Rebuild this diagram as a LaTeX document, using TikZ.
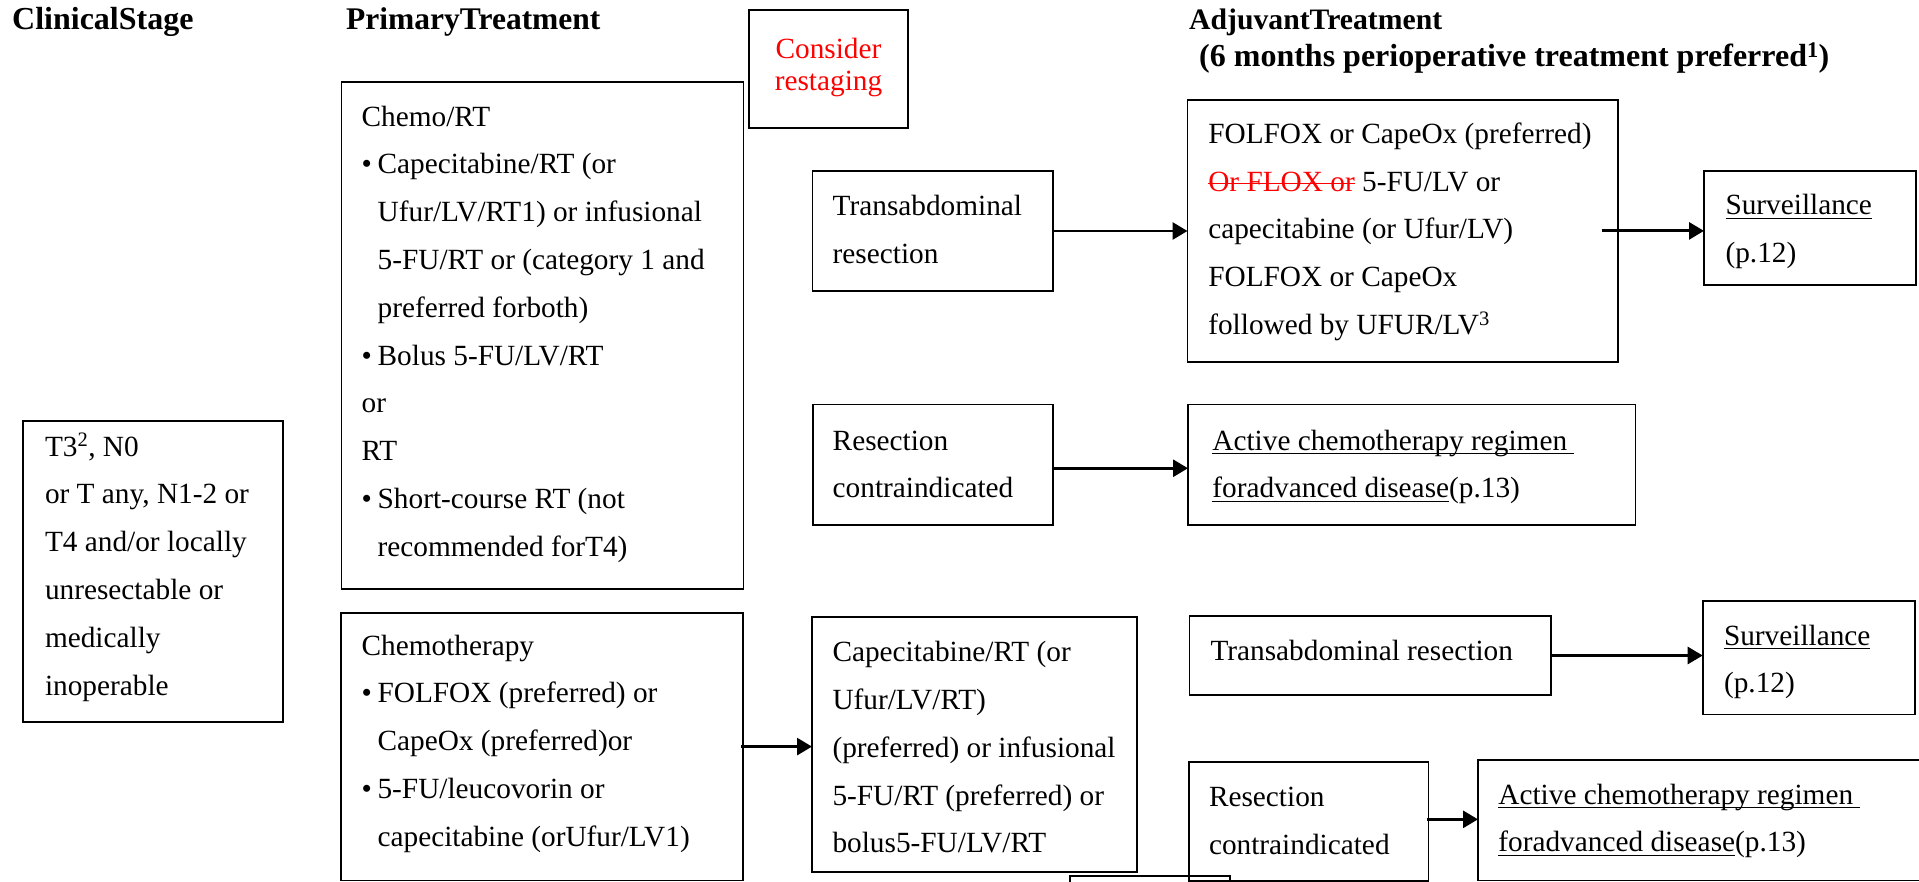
\documentclass[tikz,border=0pt]{standalone}
\usepackage{fontspec}
\setmainfont{Liberation Serif}
\usetikzlibrary{arrows.meta,calc}
\newcommand\bodyfont{\fontsize{29.3}{47.8}\selectfont}
\newcommand\headfont{\fontsize{31.5}{40}\selectfont\bfseries}
\newcommand\consfont{\fontsize{29.3}{32}\selectfont}
\newcommand\fl{\rule{0pt}{30pt}}
\newcommand\bul{\makebox[16pt][l]{\textbullet}}
\newcommand\ind{\hspace*{16pt}}
\newsavebox\mylinebox
\newcommand\uln[1]{\sbox\mylinebox{#1}\rlap{\rule[-4.2pt]{\wd\mylinebox}{1.5pt}}\usebox\mylinebox}
\newcommand\strk[1]{\sbox\mylinebox{#1}\rlap{\rule[6.8pt]{\wd\mylinebox}{1.5pt}}\usebox\mylinebox}
\tikzset{
  box/.style={draw, line width=1.8pt, inner sep=0pt, outer sep=0pt, anchor=north west},
  txt/.style={anchor=north west, inner sep=0pt, outer sep=0pt, align=left, font=\bodyfont},
  head/.style={anchor=base west, inner sep=0pt, font=\headfont},
  arr/.style={line width=2.8pt, -{Triangle[length=15pt,width=17pt]}}
}
\begin{document}
\begin{tikzpicture}[x=1pt,y=-1pt]
\useasboundingbox (0,0) rectangle (1919,882);
\fill[white] (0,0) rectangle (1919,882);
\clip (0,0) rectangle (1919,882);

% headers
\node[head, font=\fontsize{32}{40}\selectfont\bfseries] (hCS) at (12,30) {ClinicalStage};
\node[head] (hPT) at (346,30) {PrimaryTreatment};
\node[head, font=\fontsize{29.7}{40}\selectfont\bfseries] (hAT) at (1189,30) {AdjuvantTreatment};
\node[head, font=\fontsize{32}{40}\selectfont\bfseries] (hAT2) at (1199,67) {(6 months perioperative treatment preferred\textsuperscript{1})};

% boxes
\node[box, minimum width=159, minimum height=118] (cs) at (749,10) {};
\node[box, minimum width=402, minimum height=507] (crt) at (341.5,82) {};
\node[box, minimum width=240.5, minimum height=120] (tt) at (812.5,171) {};
\node[box, minimum width=430.2, minimum height=261.8] (fx) at (1187.5,100) {};
\node[box, minimum width=212, minimum height=114] (s1) at (1704,171) {};
\node[box, minimum width=240.2, minimum height=120.5] (rt) at (812.8,404.5) {};
\node[box, minimum width=447.4, minimum height=120.5] (a1) at (1188,404.5) {};
\node[box, minimum width=260.6, minimum height=301] (t3) at (22.7,420.7) {};
\node[box, minimum width=402.1, minimum height=267.8] (ch) at (341.2,612.7) {};
\node[box, minimum width=324.7, minimum height=255.3] (cr) at (812,616.7) {};
\node[box, minimum width=361.8, minimum height=79] (tb) at (1189.4,616) {};
\node[box, minimum width=212.3, minimum height=113.5] (s2) at (1702.7,601) {};
\node[box, minimum width=239.5, minimum height=119.3] (rb) at (1189,761.7) {};
\node[box, minimum width=457, minimum height=120.5] (a2) at (1478,760) {};
\node[box, minimum width=160, minimum height=30] (sm) at (1070,876) {};

% texts
\node[anchor=north, inner sep=0pt, align=center, text=red, font=\consfont] (tCS) at (828.5,28.5) {\fl Consider\\restaging};
\node[txt] (tCRT) at (361.7,96) {\fl Chemo/RT\\
\bul Capecitabine/RT (or\\
\ind Ufur/LV/RT1) or infusional\\
\ind 5-FU/RT or (category 1 and\\
\ind preferred forboth)\\
\bul Bolus 5-FU/LV/RT\\
or\\
RT\\
\bul Short-course RT (not\\
\ind recommended forT4)};
\node[txt] (tTT) at (832.7,186) {\fl Transabdominal\\resection};
\node[txt] (tFX) at (1208.3,113.3) {\fl FOLFOX or CapeOx (preferred)\\
{\color{red}\strk{Or FLOX or}} 5-FU/LV or\\
capecitabine (or Ufur/LV)\\
FOLFOX or CapeOx\\
followed by UFUR/LV\textsuperscript{3}};
\node[txt] (tS1) at (1725.5,185) {\fl\uln{Surveillance}\\(p.12)};
\node[txt] (tRT) at (832.7,420) {\fl Resection\\contraindicated};
\node[txt] (tA1) at (1212.4,420) {\fl\uln{Active chemotherapy regimen\ }\\\uln{foradvanced disease}(p.13)};
\node[txt] (tT3) at (45,426) {\fl T3\textsuperscript{2}, N0\\
or T any, N1-2 or\\
T4 and/or locally\\
unresectable or\\
medically\\
inoperable};
\node[txt] (tCH) at (361.6,625) {\fl Chemotherapy\\
\bul FOLFOX (preferred) or\\
\ind CapeOx (preferred)or\\
\bul 5-FU/leucovorin or\\
\ind capecitabine (orUfur/LV1)};
\node[txt] (tCR) at (832.5,631.7) {\fl Capecitabine/RT (or\\
Ufur/LV/RT)\\
(preferred) or infusional\\
5-FU/RT (preferred) or\\
bolus5-FU/LV/RT};
\node[txt] (tTB) at (1210.5,630) {\fl Transabdominal resection};
\node[txt] (tS2) at (1724,615) {\fl\uln{Surveillance}\\(p.12)};
\node[txt] (tRB) at (1209,776.7) {\fl Resection\\contraindicated};
\node[txt] (tA2) at (1498.4,774) {\fl\uln{Active chemotherapy regimen\ }\\\uln{foradvanced disease}(p.13)};

% connectors
\draw[arr] (tt.east) -- (tt.east -| fx.west);
\draw[arr] ([xshift=-16pt]fx.east) -- (fx.east -| s1.west);
\draw[arr] ([yshift=-3.5pt]rt.east) -- ([yshift=-3.5pt]rt.east -| a1.west);
\draw[arr] ([xshift=-2.5pt]ch.east) -- (ch.east -| cr.west);
\draw[arr] (tb.east) -- (tb.east -| s2.west);
\draw[arr] ([xshift=-2pt,yshift=2pt]rb.east) -- ([yshift=2pt]rb.east -| a2.west);
\end{tikzpicture}
\end{document}
